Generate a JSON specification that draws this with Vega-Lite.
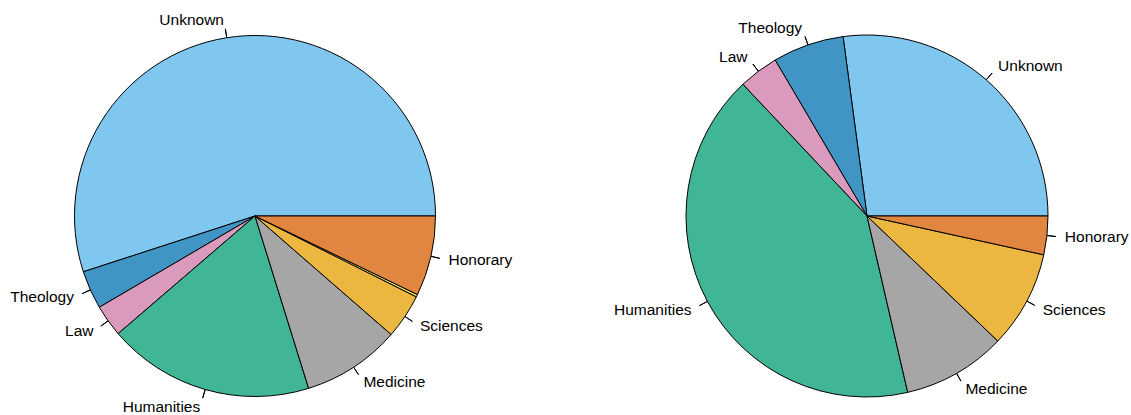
{
  "$schema": "https://vega.github.io/schema/vega-lite/v6.json",
  "padding": 0,
  "background": "white",
  "spacing": 99,
  "config": {"view": {"stroke": null}},
  "data": {"values": [
    {"pie": "left", "category": "Unknown", "idx": 1, "share": 55.0},
    {"pie": "left", "category": "Theology", "idx": 2, "share": 3.44},
    {"pie": "left", "category": "Law", "idx": 3, "share": 2.86},
    {"pie": "left", "category": "Humanities", "idx": 4, "share": 18.5},
    {"pie": "left", "category": "Medicine", "idx": 5, "share": 8.8},
    {"pie": "left", "category": "Sciences", "idx": 6, "share": 4.01},
    {"pie": "left", "category": "Other", "idx": 7, "share": 0.22},
    {"pie": "left", "category": "Honorary", "idx": 8, "share": 7.17},
    {"pie": "right", "category": "Unknown", "idx": 1, "share": 27.11},
    {"pie": "right", "category": "Theology", "idx": 2, "share": 6.36},
    {"pie": "right", "category": "Law", "idx": 3, "share": 3.56},
    {"pie": "right", "category": "Humanities", "idx": 4, "share": 41.58},
    {"pie": "right", "category": "Medicine", "idx": 5, "share": 9.25},
    {"pie": "right", "category": "Sciences", "idx": 6, "share": 8.7},
    {"pie": "right", "category": "Honorary", "idx": 8, "share": 3.44}
  ]},
  "hconcat": [
    {
      "width": 510, "height": 432,
      "transform": [
        {"filter": "datum.pie === 'left'"},
        {"window": [{"op": "sum", "field": "share", "as": "cum"}], "sort": [{"field": "idx"}], "frame": [null, 0]},
        {"calculate": "datum.cum - datum.share / 2", "as": "mid"}
      ],
      "layer": [
        {
          "mark": {"type": "arc", "radius": 180.5, "stroke": "black", "strokeWidth": 1},
          "encoding": {
            "theta": {"field": "share", "type": "quantitative", "stack": true, "scale": {"domain": [0, 100], "range": [1.5707963, -4.712389]}},
            "order": {"field": "idx", "type": "quantitative"},
            "color": {"field": "category", "type": "nominal", "legend": null,
              "scale": {"domain": ["Unknown", "Theology", "Law", "Humanities", "Medicine", "Sciences", "Other", "Honorary"],
                        "range": ["#80C7EF", "#4095C5", "#D99ABD", "#40B696", "#A6A6A6", "#ECB740", "#F4EB71", "#E08640"]}}
          }
        },
        {
          "transform": [{"filter": "datum.category !== 'Other'"}],
          "mark": {"type": "arc", "radius": 189.5, "radius2": 180.5, "filled": false, "color": "black", "strokeWidth": 1},
          "encoding": {
            "theta": {"field": "mid", "type": "quantitative", "stack": null},
            "theta2": {"field": "mid"}
          }
        },
        {
          "transform": [{"filter": "datum.category !== 'Other' && cos(2 * PI * datum.mid / 100) >= 0"}],
          "mark": {"type": "text", "radius": 198.5, "align": "left", "baseline": "middle", "font": "Liberation Sans", "fontSize": 15.5, "color": "black"},
          "encoding": {
            "theta": {"field": "mid", "type": "quantitative", "stack": null},
            "text": {"field": "category"}
          }
        },
        {
          "transform": [{"filter": "datum.category !== 'Other' && cos(2 * PI * datum.mid / 100) < 0"}],
          "mark": {"type": "text", "radius": 198.5, "align": "right", "baseline": "middle", "font": "Liberation Sans", "fontSize": 15.5, "color": "black"},
          "encoding": {
            "theta": {"field": "mid", "type": "quantitative", "stack": null},
            "text": {"field": "category"}
          }
        }
      ]
    },
    {
      "width": 510, "height": 432,
      "transform": [
        {"filter": "datum.pie === 'right'"},
        {"window": [{"op": "sum", "field": "share", "as": "cum"}], "sort": [{"field": "idx"}], "frame": [null, 0]},
        {"calculate": "datum.cum - datum.share / 2", "as": "mid"}
      ],
      "layer": [
        {
          "mark": {"type": "arc", "radius": 181, "stroke": "black", "strokeWidth": 1},
          "encoding": {
            "theta": {"field": "share", "type": "quantitative", "stack": true, "scale": {"domain": [0, 100], "range": [1.5707963, -4.712389]}},
            "order": {"field": "idx", "type": "quantitative"},
            "color": {"field": "category", "type": "nominal", "legend": null,
              "scale": {"domain": ["Unknown", "Theology", "Law", "Humanities", "Medicine", "Sciences", "Other", "Honorary"],
                        "range": ["#80C7EF", "#4095C5", "#D99ABD", "#40B696", "#A6A6A6", "#ECB740", "#F4EB71", "#E08640"]}}
          }
        },
        {
          "transform": [{"filter": "datum.category !== 'Other'"}],
          "mark": {"type": "arc", "radius": 190, "radius2": 181, "filled": false, "color": "black", "strokeWidth": 1},
          "encoding": {
            "theta": {"field": "mid", "type": "quantitative", "stack": null},
            "theta2": {"field": "mid"}
          }
        },
        {
          "transform": [{"filter": "datum.category !== 'Other' && cos(2 * PI * datum.mid / 100) >= 0"}],
          "mark": {"type": "text", "radius": 199, "align": "left", "baseline": "middle", "font": "Liberation Sans", "fontSize": 15.5, "color": "black"},
          "encoding": {
            "theta": {"field": "mid", "type": "quantitative", "stack": null},
            "text": {"field": "category"}
          }
        },
        {
          "transform": [{"filter": "datum.category !== 'Other' && cos(2 * PI * datum.mid / 100) < 0"}],
          "mark": {"type": "text", "radius": 199, "align": "right", "baseline": "middle", "font": "Liberation Sans", "fontSize": 15.5, "color": "black"},
          "encoding": {
            "theta": {"field": "mid", "type": "quantitative", "stack": null},
            "text": {"field": "category"}
          }
        }
      ]
    }
  ]
}
